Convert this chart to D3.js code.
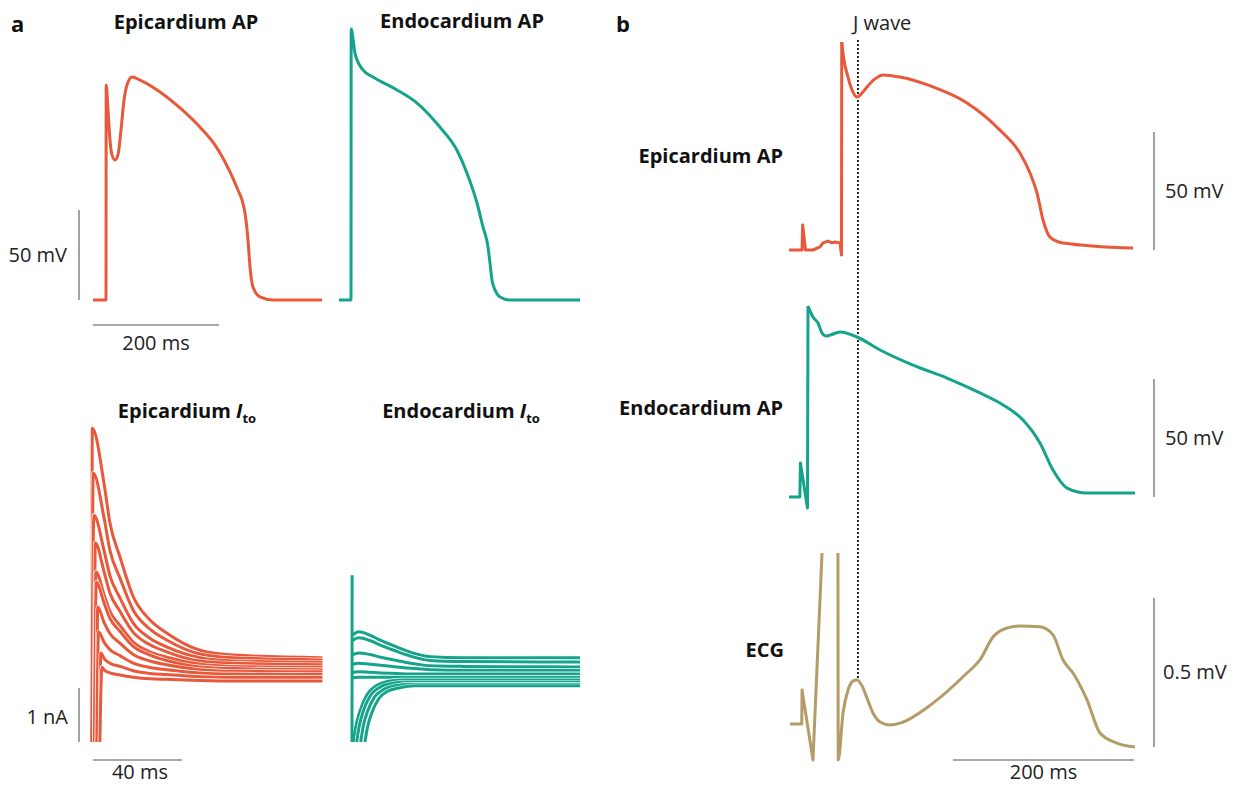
<!DOCTYPE html>
<html lang="en">
<head>
<meta charset="utf-8">
<title>Epicardium and endocardium AP, Ito and ECG</title>
<script src="https://cdnjs.cloudflare.com/ajax/libs/d3/7.8.5/d3.min.js"></script>
<style>
  body { margin: 0; background: #fff; }
  text { font-family: "Open Sans", sans-serif; fill: #111; }
  .trace { fill: none; stroke-width: 3; stroke-linejoin: round; }
  .casing { fill: none; stroke: #fff; stroke-width: 4.2; stroke-linejoin: round; }
  .bar { stroke: #555; stroke-width: 1.1; }
  .title { font-weight: 700; font-size: 20px; }
  .unit { font-size: 20px; fill: #222; }
  .panel { font-weight: 700; font-size: 22px; }
</style>
</head>
<body>
<script>
// ---- data: [time ms, voltage mV] ----
var epiApA = [[-20.6,-85],[0,-85],[0.3,34.4],[3.2,20.6],[6.3,3.9],[9.5,-4.4],[14.3,-7.2],[19,-4.4],[23.8,9.4],
  [28.6,26.1],[33.3,34.4],[41.3,38.9],[54,37.2],[85.7,30.6],[117.5,21.7],[149,11.1],[173,1.1],[197,-13.9],
  [209.5,-23.9],[215.9,-29.4],[220.6,-36.7],[225.4,-51.7],[228.6,-66.7],[233.3,-77.8],[244.4,-83.3],
  [265.1,-85],[343,-85]];

var endoApA = [[-19,-85],[0,-85],[0.3,65.6],[6.3,52.2],[19,42.8],[34.9,38.9],[73,31.7],[104.8,24.4],[141,11.1],
  [168,-1.7],[184,-14.4],[200,-31.1],[209.5,-44.4],[217.5,-55.6],[220.6,-64.4],[223.8,-73.9],[228.6,-79.4],
  [236.5,-83.3],[252.4,-85],[363.5,-85]];

// Ito, epicardium: start time (ms), peak time, peak (nA), then values at shared times
var epiItoStart = [0.3, 0.3, 0.3, 1.5, 1.5, 1.5, 2.6, 2.6, 4.0, 4.0];
var epiItoPeakTime = [0.6, 1.0, 1.3, 1.9, 2.2, 2.4, 3.0, 3.4, 4.4, 4.9];
var epiItoPeak = [5.81, 4.98, 4.20, 3.69, 3.15, 2.96, 2.50, 2.04, 1.65, 1.39];
var epiItoTimes = [6, 8.5, 13, 19, 26.5, 34, 49, 64, 104];
var epiItoDecay = [
  [4.75, 4.06, 3.43, 2.69, 2.26, 2.02, 1.70, 1.61, 1.56],
  [4.12, 3.55, 3.04, 2.44, 2.09, 1.89, 1.63, 1.56, 1.52],
  [3.52, 3.08, 2.67, 2.20, 1.92, 1.76, 1.56, 1.50, 1.47],
  [3.13, 2.76, 2.42, 2.03, 1.80, 1.67, 1.50, 1.46, 1.43],
  [2.71, 2.42, 2.16, 1.85, 1.67, 1.57, 1.44, 1.40, 1.38],
  [2.56, 2.29, 2.05, 1.77, 1.61, 1.51, 1.39, 1.36, 1.34],
  [2.20, 2.01, 1.83, 1.62, 1.50, 1.43, 1.34, 1.31, 1.30],
  [1.84, 1.71, 1.60, 1.46, 1.38, 1.34, 1.28, 1.26, 1.25],
  [1.54, 1.46, 1.40, 1.32, 1.27, 1.25, 1.21, 1.20, 1.20],
  [1.33, 1.28, 1.24, 1.20, 1.17, 1.16, 1.14, 1.13, 1.13]
];

// Ito, endocardium
var endoItoSpike = [[0, 0], [0.05, 3.09]];
var endoItoTimes = [0.3, 3, 8, 13, 20, 28, 35, 50, 102.5];
var endoItoUpper = [
  [1.98, 2.04, 1.98, 1.88, 1.76, 1.64, 1.58, 1.56, 1.56],
  [1.88, 1.93, 1.88, 1.79, 1.68, 1.57, 1.51, 1.49, 1.48],
  [1.62, 1.65, 1.62, 1.57, 1.51, 1.45, 1.41, 1.40, 1.39],
  [1.44, 1.46, 1.44, 1.42, 1.39, 1.36, 1.34, 1.33, 1.33],
  [1.29, 1.30, 1.29, 1.28, 1.27, 1.26, 1.26, 1.26, 1.26],
  [1.19, 1.20, 1.20, 1.20, 1.20, 1.20, 1.20, 1.20, 1.20]
];
var endoItoLower = [
  [[0.6,0],[1.8,0.3],[3.8,0.6],[6.8,0.88],[10.8,1.04],[15.8,1.12],[21.8,1.15],[102.5,1.15]],
  [[2.1,0],[3.3,0.3],[5.3,0.6],[8.3,0.86],[12.3,1.01],[17.3,1.08],[23.8,1.11],[102.5,1.11]],
  [[3.9,0],[5.1,0.3],[7.1,0.58],[10.1,0.83],[14.1,0.97],[19.1,1.04],[26.1,1.07],[102.5,1.07]],
  [[5.8,0],[7.0,0.28],[9.0,0.55],[12.0,0.8],[16.0,0.94],[21.0,1.0],[28.3,1.04],[102.5,1.04]]
];

// panel b, shared time axis (pre-upstroke part drawn straight, the rest smoothed)
var epiApBPre = [[0,-85],[14.4,-85],[15.1,-74.4],[18.2,-85],[26.5,-85],[34.3,-83.7],[37.6,-82.0],[43.1,-81.2],
  [47.5,-82.0],[50.8,-81.6],[56.4,-82.0],[58.0,-87.1],[58.3,3.1]];
var epiApB = [[58.3,3.1],[60.2,-3.2],[65.2,-11.7],[70.7,-18.1],
  [75.1,-20.2],[80.7,-18.5],[86.2,-15.9],[95.0,-12.5],[103.9,-10.8],[122.7,-11.7],[159.1,-15.9],[196.7,-22.7],
  [233.1,-34.2],[255.2,-43.9],[266.3,-52.4],[274.0,-60.8],[280.7,-72.3],[288.4,-79.5],[302.8,-82.0],[380.1,-84.2]];

var endoApBPre = [[0,-85],[12.0,-85],[12.6,-70.6],[20.4,-89.7],[21.0,-4.1]];
var endoApB = [[21.0,-4.1],[26.5,-8.7],[32.0,-11.3],[36.5,-15.5],
  [40.9,-16.8],[45.3,-16.4],[56.4,-15.1],[75.1,-17.2],[100.6,-22.7],[137.0,-29.1],[174.6,-34.6],[211.0,-40.9],
  [233.1,-45.2],[258.6,-52.4],[277.3,-62.1],[291.7,-73.6],[307.2,-81.2],[329.3,-83.3],[382.3,-83.3]];

var ecgQrs = [[1.1,0],[14.1,0],[14.4,0.114],[26.5,-0.121],[36.5,0.574]];
var ecgRest = [[54.1,0.574],[54.4,-0.121],[59.7,0.037],[65.2,0.114],[70.7,0.144],[75.1,0.148],[80.7,0.128],
  [86.2,0.087],[92.8,0.037],[100.6,0.007],[111.6,-0.003],[122.7,0.003],[159.1,0.07],[196.7,0.171],[211,0.215],
  [225.4,0.292],[240.9,0.322],[255.2,0.329],[277.3,0.326],[291.7,0.299],[302.8,0.215],[313.8,0.171],
  [329.3,0.081],[343.6,-0.03],[362.4,-0.064],[382.3,-0.077]];

var jWaveTime = 76.2;

var orange = "#e8583b", teal = "#15a48b", tan = "#b39c68";

var svg = d3.select("body").append("svg")
    .attr("width", 1244)
    .attr("height", 787);

function lineGen(x, y, curve) {
  return d3.line()
      .x(function(d) { return x(d[0]); })
      .y(function(d) { return y(d[1]); })
      .curve(curve || d3.curveMonotoneX);
}

function vbar(x, y, t, v0, v1) {
  svg.append("line").attr("class", "bar")
      .attr("x1", x(t)).attr("x2", x(t))
      .attr("y1", y(v0)).attr("y2", y(v1));
}
function hbar(x, y, v, t0, t1) {
  svg.append("line").attr("class", "bar")
      .attr("x1", x(t0)).attr("x2", x(t1))
      .attr("y1", y(v)).attr("y2", y(v));
}
function label(cls, x, y, anchor, txt) {
  return svg.append("text").attr("class", cls)
      .attr("x", x).attr("y", y)
      .attr("text-anchor", anchor)
      .text(txt);
}

// ---- panel a, action potentials ----
var yApA = d3.scaleLinear().domain([-85, -35]).range([300, 210]);
var xEpiA = d3.scaleLinear().domain([0, 200]).range([106, 232]);
var xEndoA = d3.scaleLinear().domain([0, 200]).range([351, 477]);

svg.append("path").datum(epiApA).attr("class", "trace")
    .attr("stroke", orange).attr("d", lineGen(xEpiA, yApA));
svg.append("path").datum(endoApA).attr("class", "trace")
    .attr("stroke", teal).attr("d", lineGen(xEndoA, yApA));

vbar(xEpiA, yApA, -42.9, -85, -35);
hbar(xEpiA, yApA, -98.9, -20.6, 179.4);
label("unit", xEpiA(-42.9) - 12, (yApA(-85) + yApA(-35)) / 2 + 7, "end", "50 mV");
label("unit", xEpiA(79.4), yApA(-98.9) + 25, "middle", "200 ms");

label("panel", 11, 32, "start", "a");
label("title", 186, 29, "middle", "Epicardium AP");
label("title", 462, 28, "middle", "Endocardium AP");

// ---- panel a, Ito ----
var yIto = d3.scaleLinear().domain([0, 1]).range([742, 688]);
var xEpiI = d3.scaleLinear().domain([0, 40]).range([91, 180]);
var xEndoI = d3.scaleLinear().domain([0, 40]).range([352, 441]);

var epiItoTraces = epiItoStart.map(function(ts, i) {
  var pts = [[ts, 0], [epiItoPeakTime[i], epiItoPeak[i]]];
  epiItoTimes.forEach(function(t, j) { pts.push([t, epiItoDecay[i][j]]); });
  return pts;
});
var epiItoLine = lineGen(xEpiI, yIto);
epiItoTraces.forEach(function(pts) {
  svg.append("path").datum(pts).attr("class", "casing").attr("d", epiItoLine);
  svg.append("path").datum(pts).attr("class", "trace")
      .attr("stroke", orange).attr("stroke-width", 2.7).attr("d", epiItoLine);
});

var endoItoTraces = endoItoUpper.map(function(vals) {
  return endoItoTimes.map(function(t, j) { return [t, vals[j]]; });
}).concat(endoItoLower);
var endoItoLine = lineGen(xEndoI, yIto);
endoItoTraces.forEach(function(pts) {
  svg.append("path").datum(pts).attr("class", "casing").attr("d", endoItoLine);
  svg.append("path").datum(pts).attr("class", "trace")
      .attr("stroke", teal).attr("stroke-width", 2.7).attr("d", endoItoLine);
});
svg.append("path").datum(endoItoSpike).attr("class", "trace")
    .attr("stroke", teal).attr("stroke-width", 2.7)
    .attr("d", lineGen(xEndoI, yIto, d3.curveLinear));

vbar(xEpiI, yIto, -5.4, 0, 1);
hbar(xEpiI, yIto, -0.333, 0.9, 40.9);
label("unit", xEpiI(-5.4) - 11, yIto(0.5) + 9, "end", "1 nA");
label("unit", xEpiI(22), 779, "middle", "40 ms");

var t1 = label("title", 187, 418, "middle", "Epicardium ");
t1.append("tspan").style("font-style", "italic").text("I");
t1.append("tspan").attr("dy", 5).style("font-size", "13px").text("to");
var t2 = label("title", 461, 418, "middle", "Endocardium ");
t2.append("tspan").style("font-style", "italic").text("I");
t2.append("tspan").attr("dy", 5).style("font-size", "13px").text("to");

// ---- panel b ----
var xB = d3.scaleLinear().domain([0, 200]).range([789, 970]);
var yEpiB = d3.scaleLinear().domain([-85, -35]).range([250, 132]);
var yEndoB = d3.scaleLinear().domain([-85, -35]).range([497, 379]);
var yEcg = d3.scaleLinear().domain([0, 0.5]).range([724, 575]);

svg.append("line")
    .attr("x1", xB(jWaveTime)).attr("x2", xB(jWaveTime))
    .attr("y1", 40).attr("y2", yEcg(0.148))
    .attr("stroke", "#111").attr("stroke-width", 1.8)
    .attr("stroke-dasharray", "2,2");

svg.append("path").datum(epiApBPre).attr("class", "trace")
    .attr("stroke", orange).attr("d", lineGen(xB, yEpiB, d3.curveLinear));
svg.append("path").datum(epiApB).attr("class", "trace")
    .attr("stroke", orange).attr("d", lineGen(xB, yEpiB));
svg.append("path").datum(endoApBPre).attr("class", "trace")
    .attr("stroke", teal).attr("d", lineGen(xB, yEndoB, d3.curveLinear));
svg.append("path").datum(endoApB).attr("class", "trace")
    .attr("stroke", teal).attr("d", lineGen(xB, yEndoB));
svg.append("path").datum(ecgQrs).attr("class", "trace")
    .attr("stroke", tan).attr("d", lineGen(xB, yEcg, d3.curveLinear));
svg.append("path").datum(ecgRest).attr("class", "trace")
    .attr("stroke", tan).attr("d", lineGen(xB, yEcg));

vbar(xB, yEpiB, 403.3, -85, -35);
vbar(xB, yEndoB, 403.3, -85, -35);
vbar(xB, yEcg, 403.3, -0.077, 0.423);
hbar(xB, yEcg, -0.121, 181.2, 381.2);

label("unit", xB(403.3) + 11, (yEpiB(-85) + yEpiB(-35)) / 2 + 7, "start", "50 mV");
label("unit", xB(403.3) + 11, (yEndoB(-85) + yEndoB(-35)) / 2 + 7, "start", "50 mV");
label("unit", xB(403.3) + 9, (yEcg(-0.077) + yEcg(0.423)) / 2 + 7, "start", "0.5 mV");
label("unit", xB(281.2), 779, "middle", "200 ms");

label("panel", 616, 32, "start", "b");
label("unit", xB(jWaveTime) - 5, 30, "start", "J wave");
label("title", 783, 163, "end", "Epicardium AP");
label("title", 783, 415, "end", "Endocardium AP");
label("title", 784, 657, "end", "ECG");
</script>
</body>
</html>
